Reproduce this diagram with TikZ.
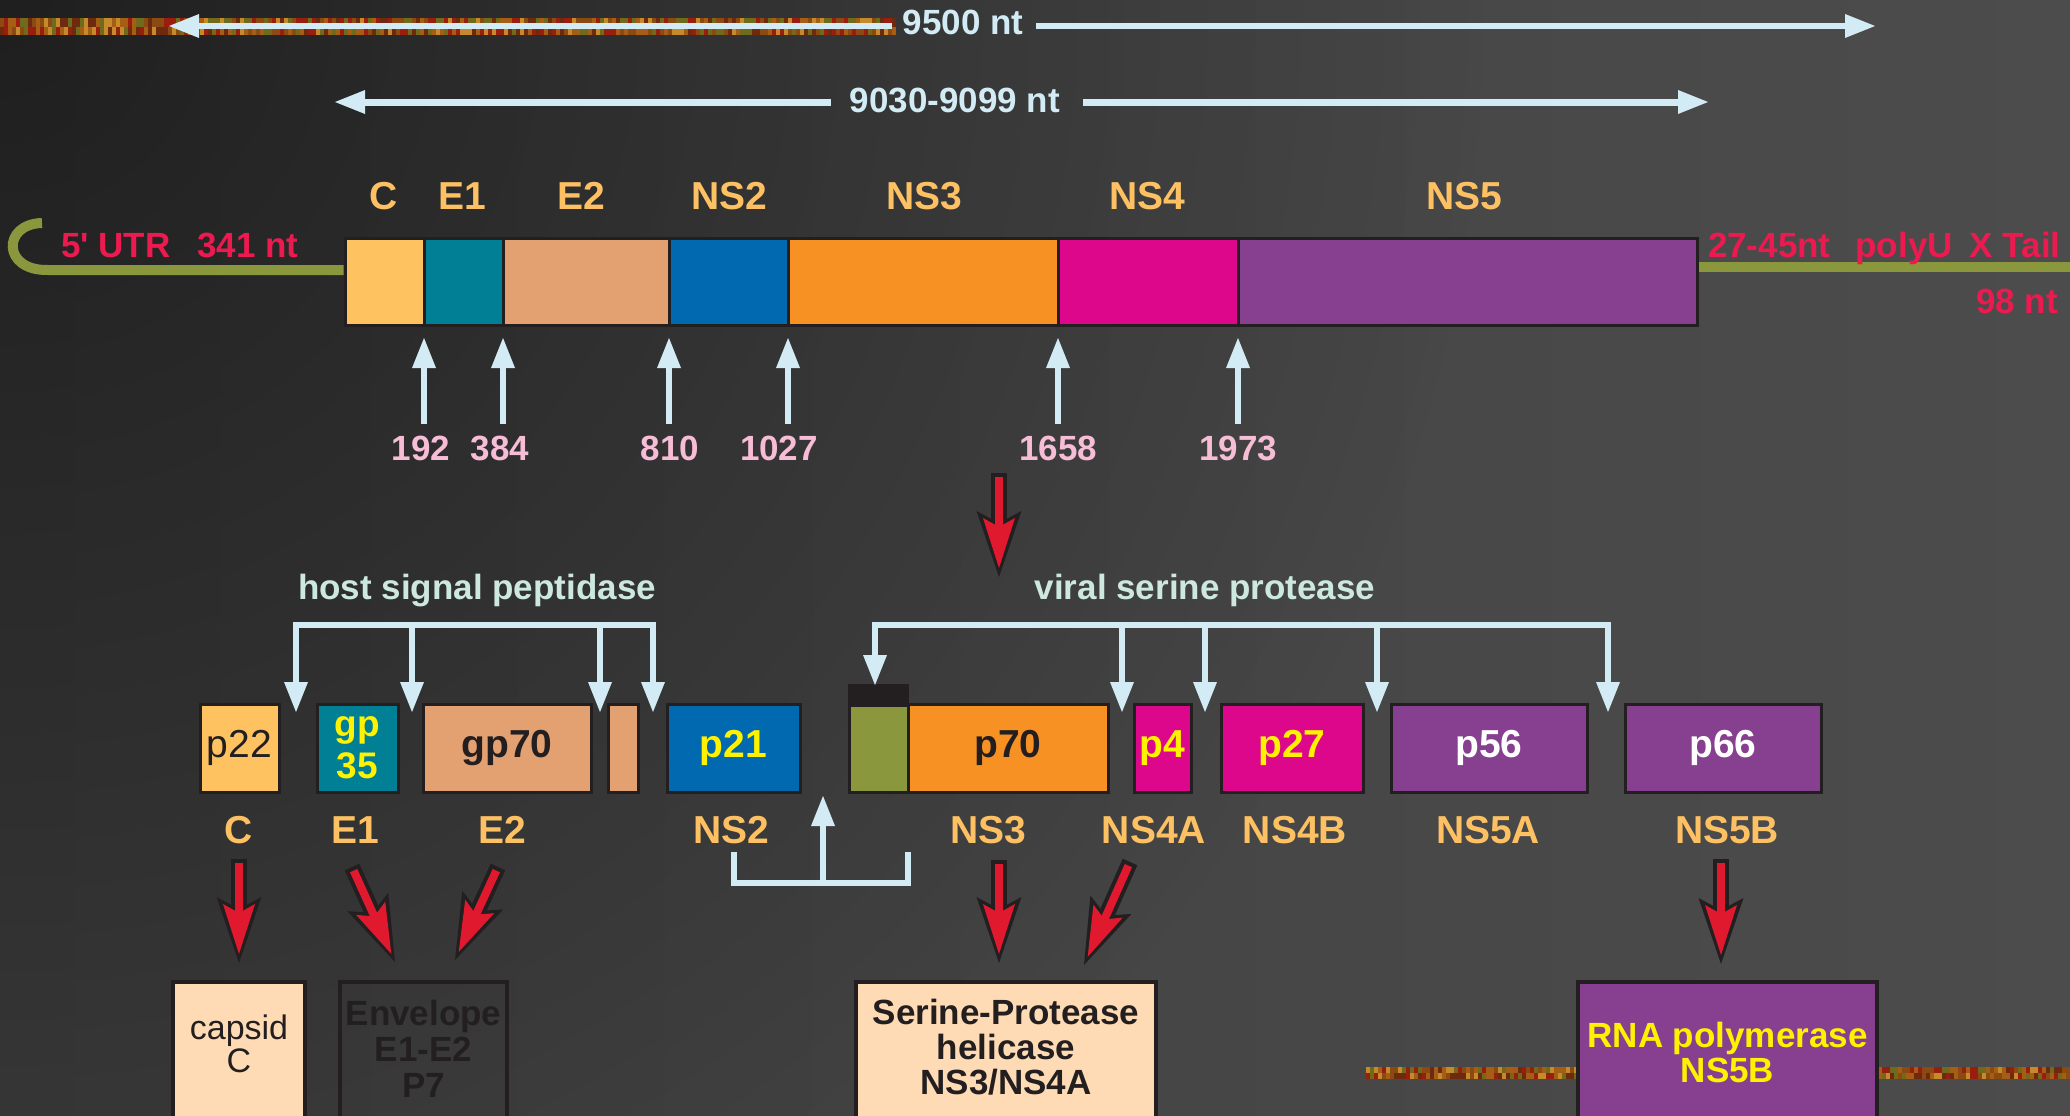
\documentclass[tikz,border=0pt]{standalone}
\usepackage{fontspec}
\setmainfont{Liberation Sans}[Ligatures=TeXOff]
\usetikzlibrary{arrows.meta,calc,fadings}
\definecolor{bgL}{HTML}{3E3E3E}
\definecolor{bgR}{HTML}{4C4C4C}
\definecolor{outl}{HTML}{231F20}
\definecolor{cC}{HTML}{FEC260}
\definecolor{cE1}{HTML}{007F95}
\definecolor{cE2}{HTML}{E3A070}
\definecolor{cNS2}{HTML}{0069B0}
\definecolor{cNS3}{HTML}{F79124}
\definecolor{cNS4}{HTML}{DC078B}
\definecolor{cNS5}{HTML}{87408F}
\definecolor{colive}{HTML}{8A973C}
\definecolor{labor}{HTML}{FDC163}
\definecolor{redtxt}{HTML}{EC1A4F}
\definecolor{numpink}{HTML}{F7BDD6}
\definecolor{lblue}{HTML}{D2EBF5}
\definecolor{mint}{HTML}{CDE8DE}
\definecolor{yel}{HTML}{FFF200}
\definecolor{peach}{HTML}{FEDBB4}
\definecolor{arrred}{HTML}{E1192F}
\definecolor{tx1}{HTML}{8B4A12}
\definecolor{tx2}{HTML}{A65E14}
\definecolor{tx3}{HTML}{6E2A0E}
\definecolor{tx4}{HTML}{9A1E10}
\definecolor{tx5}{HTML}{6F6A1C}
\definecolor{tx6}{HTML}{C58A2A}
\tikzfading[name=cornerfade, inner color=transparent!0, outer color=transparent!100]
\tikzset{
  every node/.style={inner sep=0pt, outer sep=0pt},
  bigtxt/.style={font=\fontsize{35}{42}\selectfont\bfseries},
  lab/.style={font=\fontsize{39}{46}\selectfont\bfseries, text=labor, anchor=base},
  num/.style={bigtxt, text=numpink, anchor=base},
  seg/.style={draw=outl, line width=3pt, minimum height=87pt, anchor=north west},
  prot/.style={draw=outl, line width=3pt, minimum height=88pt, anchor=north west, font=\fontsize{39}{46}\selectfont\bfseries},
  resbox/.style={draw=outl, line width=4pt, minimum height=200pt, anchor=north west},
  lbarr/.style={draw=lblue, line width=6pt, -{Triangle[length=30pt,width=24pt,line width=0pt]}},
  lbboth/.style={draw=lblue, line width=6pt, {Triangle[length=30pt,width=24pt,line width=0pt]}-{Triangle[length=30pt,width=24pt,line width=0pt]}},
  brk/.style={draw=lblue, line width=6pt},
  oliveln/.style={draw=colive, line width=10pt},
  redarr/.style={draw=outl, line width=16pt, -{Stealth[length=66pt,width=45pt,inset=12pt,line width=0pt]},
    postaction={draw=arrred, line width=8pt, shorten >=9pt, shorten <=4pt, -{Stealth[length=50pt,width=32pt,inset=9pt,line width=0pt]}}}
}
\begin{document}
\begin{tikzpicture}[x=1pt,y=-1pt]
\useasboundingbox (0,0) rectangle (2070,1116);
\clip (0,0) rectangle (2070,1116);
\shade[left color=bgL, right color=bgR] (0,0) rectangle (2070,1116);
\fill[black, opacity=0.5, path fading=cornerfade] (0,0) circle[radius=1500];

% textured strips
\pgfmathsetseed{42}
\foreach \i in {0,...,223}{
  \pgfmathrandominteger{\ra}{1}{6}
  \pgfmathrandominteger{\rb}{1}{6}
  \fill[fill=tx\ra] (\i*4,18) rectangle ++(4,9);
  \fill[fill=tx\rb] (\i*4,27) rectangle ++(4,8);
}
\foreach \i in {0,...,175}{
  \pgfmathrandominteger{\ra}{1}{6}
  \pgfmathrandominteger{\rb}{1}{6}
  \fill[fill=tx\ra] (1366+\i*4,1067) rectangle ++(4,6);
  \fill[fill=tx\rb] (1366+\i*4,1073) rectangle ++(4,6);
}

% length arrows
\node[bigtxt, text=lblue, anchor=base] (t9500) at (963,35) {9500 nt};
\coordinate (a1L) at (169,26);
\coordinate (a1R) at (1875,26);
\draw[lbarr] ($(t9500.west |- a1L)+(-11,0)$) -- (a1L);
\draw[lbarr] ($(t9500.east |- a1R)+(13,0)$) -- (a1R);

\node[bigtxt, text=lblue, anchor=base] (t9030) at (955,113) {9030-9099 nt};
\coordinate (a2L) at (335,102);
\coordinate (a2R) at (1708,102);
\draw[lbarr, line width=7pt] ($(t9030.west |- a2L)+(-19,0)$) -- (a2L);
\draw[lbarr, line width=7pt] ($(t9030.east |- a2R)+(23,0)$) -- (a2R);

% genome bar
\node[seg, fill=cC, minimum width=79pt] (segC) at (345,238) {};
\node[seg, fill=cE1, minimum width=79pt] (segE1) at (424,238) {};
\node[seg, fill=cE2, minimum width=166pt] (segE2) at (503,238) {};
\node[seg, fill=cNS2, minimum width=119pt] (segNS2) at (669,238) {};
\node[seg, fill=cNS3, minimum width=270pt] (segNS3) at (788,238) {};
\node[seg, fill=cNS4, minimum width=180pt] (segNS4) at (1058,238) {};
\node[seg, fill=cNS5, minimum width=459pt] (segNS5) at (1238,238) {};

% UTR lines
\coordinate (utr0) at (42,223);
\coordinate (utrY) at (0,270);
\coordinate (tailY) at (0,267);
\coordinate (tailEnd) at (2070,267);
\draw[oliveln] (utr0) .. controls (2,224) and (2,271) .. (48,270) -- ($(segC.west |- utrY)+(-1.5,0)$);
\draw[oliveln] ($(segNS5.east |- tailY)+(1.5,0)$) -- (tailEnd);
\node[bigtxt, text=redtxt, anchor=base west] (utr5) at (61,257) {5' UTR\hspace{27pt}341 nt};
\node[bigtxt, text=redtxt, anchor=base west] (utr3) at (1708,257) {27-45nt\hspace{25pt}polyU\hspace{17pt}X Tail};
\node[bigtxt, text=redtxt, anchor=base east] (utr98) at (2058,313) {98 nt};

% labels above bar
\node[lab] (hC) at (384,209) {C};
\node[lab] (hE1) at (462,209) {E1};
\node[lab] (hE2) at (581,209) {E2};
\node[lab] (hNS2) at (729,209) {NS2};
\node[lab] (hNS3) at (924,209) {NS3};
\node[lab] (hNS4) at (1147,209) {NS4};
\node[lab] (hNS5) at (1464,209) {NS5};

% cleavage positions
\node[num] (n192) at (421,460) {192};
\node[num] (n384) at (500,460) {384};
\node[num] (n810) at (670,460) {810};
\node[num] (n1027) at (779,460) {1027};
\node[num] (n1658) at (1058,460) {1658};
\node[num] (n1973) at (1238,460) {1973};
\foreach \s/\n in {segC/n192, segE1/n384, segE2/n810, segNS2/n1027, segNS3/n1658, segNS4/n1973}{
  \draw[lbarr, line width=5.5pt, shorten <=12pt] (\s.south east |- \n.north) -- ([yshift=-13pt]\s.south east);
}

% big red arrow
\coordinate (rBs) at (999,473);
\coordinate (rBe) at (999,577);
\draw[redarr] (rBs) -- (rBe);

% enzyme labels
\node[bigtxt, text=mint, anchor=base] (hsp) at (477,599) {host signal peptidase};
\node[bigtxt, text=mint, anchor=base] (vsp) at (1205,599) {viral serine protease};

% protein boxes
\node[prot, fill=cC, minimum width=79pt, text=outl, font=\fontsize{39}{46}\selectfont] (p22) at (200,704) {p22};
\node[prot, fill=cE1, minimum width=81pt, text=yel, align=center, font=\fontsize{37}{42}\selectfont\bfseries] (gp35) at (317,704) {gp\\35};
\node[prot, fill=cE2, minimum width=168pt, text=outl] (gp70) at (423,704) {gp70};
\node[prot, fill=cE2, minimum width=30pt] (p7) at (608,704) {};
\node[prot, fill=cNS2, minimum width=133pt, text=yel] (p21) at (667,704) {p21};
\node[draw=outl, fill=outl, line width=2pt, minimum width=59pt, minimum height=20pt, anchor=north west] (cap) at (849,685) {};
\node[prot, fill=colive, minimum width=59pt, minimum height=87pt] (olbox) at (849,705) {};
\node[prot, fill=cNS3, minimum width=200pt, text=outl] (p70) at (908,704) {p70};
\node[prot, fill=cNS4, minimum width=57pt, text=yel] (p4) at (1134,704) {p4};
\node[prot, fill=cNS4, minimum width=142pt, text=yel] (p27) at (1221,704) {p27};
\node[prot, fill=cNS5, minimum width=196pt, text=white] (p56) at (1391,704) {p56};
\node[prot, fill=cNS5, minimum width=196pt, text=white] (p66) at (1625,704) {p66};

% brackets
\coordinate (bar) at (0,625);
\coordinate (hsA) at (296,712);
\coordinate (hsB) at (412,712);
\coordinate (hsC) at (600,712);
\coordinate (hsD) at (653,712);
\draw[lbboth] (hsA) |- (hsD |- bar) -- (hsD);
\draw[lbarr] (hsB |- bar) -- (hsB);
\draw[lbarr] (hsC |- bar) -- (hsC);
\coordinate (vsA) at (875,685);
\coordinate (vsB) at (1122,712);
\coordinate (vsC) at (1205,712);
\coordinate (vsD) at (1377,712);
\coordinate (vsE) at (1608,712);
\draw[lbboth] (vsA) |- (vsE |- bar) -- (vsE);
\draw[lbarr] (vsB |- bar) -- (vsB);
\draw[lbarr] (vsC |- bar) -- (vsC);
\draw[lbarr] (vsD |- bar) -- (vsD);

% labels below boxes
\node[lab] (lC) at (239,843) {C};
\node[lab] (lE1) at (355,843) {E1};
\node[lab] (lE2) at (502,843) {E2};
\node[lab] (lNS2) at (731,843) {NS2};
\node[lab] (lNS3) at (988,843) {NS3};
\node[lab] (lNS4A) at (1154,843) {NS4A};
\node[lab] (lNS4B) at (1295,843) {NS4B};
\node[lab] (lNS5A) at (1488,843) {NS5A};
\node[lab] (lNS5B) at (1727,843) {NS5B};

% NS2 bracket
\coordinate (uL) at (734,852);
\coordinate (uR) at (908,852);
\coordinate (uB) at (0,883);
\coordinate (uTip) at (823,796);
\draw[brk] (uL) |- (uR |- uB) -- (uR);
\draw[lbarr] (uTip |- uB) -- (uTip);

% bottom boxes
\node[resbox, fill=peach, minimum width=132pt] (capsid) at (173,982) {};
\node[resbox, minimum width=167pt] (env) at (340,982) {};
\node[resbox, fill=peach, minimum width=300pt] (serp) at (856,982) {};
\node[resbox, fill=cNS5, minimum width=299pt] (rna) at (1578,982) {};
\node[font=\fontsize{34}{33}\selectfont, text=outl, align=center, anchor=north] (tcapsid) at (239,1015) {capsid\\C};
\node[font=\fontsize{35}{36}\selectfont\bfseries, text=outl, align=center, anchor=north] (tenv) at (423.5,1000) {Envelope\\E1-E2\\P7};
\node[font=\fontsize{35}{35}\selectfont\bfseries, text=outl, align=center, anchor=north] (tserp) at (1006,999) {Serine-Protease\\helicase\\NS3/NS4A};
\node[font=\fontsize{35}{35}\selectfont\bfseries, text=yel, align=center, anchor=north] (trna) at (1727.5,1022) {RNA polymerase\\NS5B};

% red arrows
\coordinate (rCs) at (239,859);   \coordinate (rCe) at (239,963);
\coordinate (rE1s) at (352,867);  \coordinate (rE1e) at (395,962);
\coordinate (rE2s) at (498,867);  \coordinate (rE2e) at (455,960);
\coordinate (rN3s) at (999,860);  \coordinate (rN3e) at (999,963);
\coordinate (rN4s) at (1130,862); \coordinate (rN4e) at (1084,965);
\coordinate (rN5s) at (1721,859); \coordinate (rN5e) at (1721,964);
\draw[redarr] (rCs) -- (rCe);
\draw[redarr] (rE1s) -- (rE1e);
\draw[redarr] (rE2s) -- (rE2e);
\draw[redarr] (rN3s) -- (rN3e);
\draw[redarr] (rN4s) -- (rN4e);
\draw[redarr] (rN5s) -- (rN5e);
\end{tikzpicture}
\end{document}
